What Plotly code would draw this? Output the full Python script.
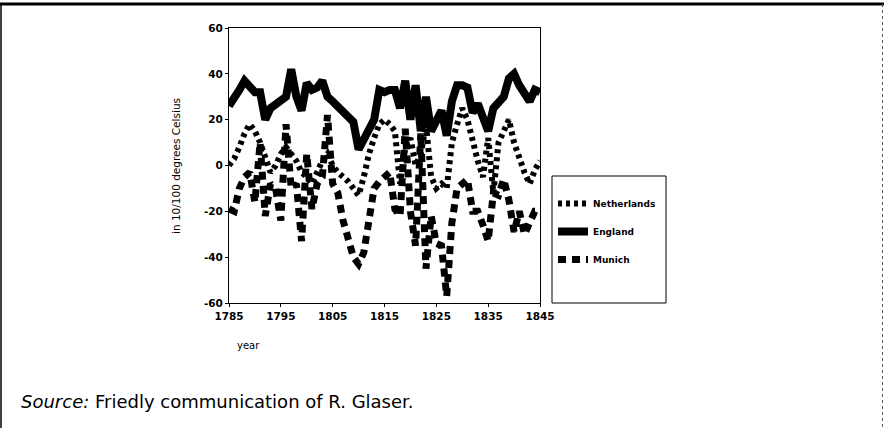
import plotly.graph_objects as go

years = list(range(1785, 1846))

england = [26, 29, 33, 37, 34, 32, 32, 20, 25, 27,
           28, 30, 42, 30, 24, 36, 33, 34, 37, 30,
           28, 26, 24, 22, 19, 7, 11, 15, 20, 33,
           32, 33, 33, 25, 37, 20, 35, 15, 30, 15,
           20, 24, 13, 28, 35, 35, 34, 23, 27, 20,
           15, 25, 28, 30, 38, 40, 35, 32, 28, 33, 32]

netherlands = [0, 3, 8, 14, 18, 15, 10, 3, -3, 0,
               5, 8, 5, 2, -3, -5, -8, -3, 2, 5,
               0, -3, -5, -7, -10, -13, -5, 5, 12, 18,
               20, 18, 15, -8, 8, 12, 0, 5, 18, -5,
               -10, -8, -10, 10, 18, 25, 20, 10, 2, -5,
               12, -12, 10, 15, 20, 10, 3, -3, -8, -2, 2]

munich = [-19, -20, -10, -5, -3, -16, 10, -22, -8, -10,
          -24, 18, -10, -8, -33, 5, -19, -8, -5, 22,
          -8, -12, -24, -33, -40, -43, -38, -24, -10, -7,
          -5, -3, -19, -22, 16, -20, -35, 14, -45, -22,
          -34, -35, -57, -25, -10, -8, -6, -20, -20, -26,
          -33, -12, -13, -6, -15, -29, -20, -30, -25, -20, -20]

x_ticks = [1785, 1795, 1805, 1815, 1825, 1835, 1845]
y_ticks = [-60, -40, -20, 0, 20, 40, 60]

W, H = 884, 428
L, R, T, B = 229, 540, 28, 303


def px(xp):
    return (xp - L) / (R - L)


def py(yp):
    return (B - yp) / (B - T)


fig = go.Figure()
fig.add_trace(go.Scatter(x=years, y=netherlands, mode="lines", name="Netherlands",
                         legendgroup="a",
                         line=dict(color="black", width=6, dash="4px,4px")))
fig.add_trace(go.Scatter(x=years, y=england, mode="lines", name="England",
                         legendgroup="b",
                         line=dict(color="black", width=8)))
fig.add_trace(go.Scatter(x=years, y=munich, mode="lines", name="Munich",
                         legendgroup="c",
                         line=dict(color="black", width=7, dash="8px,6px")))

tickfont = dict(family="DejaVu Sans", size=10.5, color="black", weight="bold")

fig.update_xaxes(range=[1785, 1845], tickvals=x_ticks, ticktext=[str(v) for v in x_ticks],
                 showgrid=False, zeroline=False, showline=True, linecolor="black",
                 linewidth=1, mirror=True, ticks="outside", ticklen=3, tickcolor="black",
                 tickfont=tickfont)
fig.update_yaxes(range=[-60, 60], tickvals=y_ticks, ticktext=[str(v) for v in y_ticks],
                 showgrid=False, zeroline=False, showline=True, linecolor="black",
                 linewidth=1, mirror=True, ticks="outside", ticklen=3, tickcolor="black",
                 tickfont=tickfont)

shapes = [
    # legend box
    dict(type="rect", xref="paper", yref="paper", x0=px(552), x1=px(666),
         y0=py(303), y1=py(176), line=dict(color="black", width=1)),
    # page frame
    dict(type="line", xref="paper", yref="paper", x0=px(0), x1=px(884),
         y0=py(4), y1=py(4), line=dict(color="black", width=3)),
    dict(type="line", xref="paper", yref="paper", x0=px(1), x1=px(1),
         y0=py(4), y1=py(428), line=dict(color="black", width=1.5)),
    dict(type="line", xref="paper", yref="paper", x0=px(882.5), x1=px(882.5),
         y0=py(4), y1=py(428), line=dict(color="#555555", width=1, dash="dot")),
]

annotations = [
    dict(text="in 10/100 degrees Celsius", xref="paper", yref="paper",
         x=px(176), y=py(166), textangle=-90, showarrow=False,
         xanchor="center", yanchor="middle",
         font=dict(family="DejaVu Sans", size=10.5, color="black")),
    dict(text="year", xref="paper", yref="paper", x=px(248), y=py(345),
         xanchor="center", yanchor="middle", showarrow=False,
         font=dict(family="DejaVu Sans", size=10, color="black")),
    dict(text="<i>Source:</i> Friedly communication of R. Glaser.", xref="paper",
         yref="paper", x=px(19), y=py(401), xanchor="left", yanchor="middle",
         showarrow=False,
         font=dict(family="DejaVu Sans", size=18, color="black")),
]

fig.update_layout(
    width=W, height=H,
    margin=dict(l=L, r=W - R, t=T, b=H - B),
    paper_bgcolor="white", plot_bgcolor="white",
    showlegend=True,
    legend=dict(x=px(553), y=py(189), xanchor="left", yanchor="top",
                traceorder="grouped", tracegroupgap=9,
                bgcolor="rgba(0,0,0,0)", borderwidth=0,
                font=dict(family="DejaVu Sans", size=9, color="black", weight="bold")),
    shapes=shapes,
    annotations=annotations,
)

fig.write_html("out.html", config={"displayModeBar": False},
               post_script="document.body.style.margin='0';")
